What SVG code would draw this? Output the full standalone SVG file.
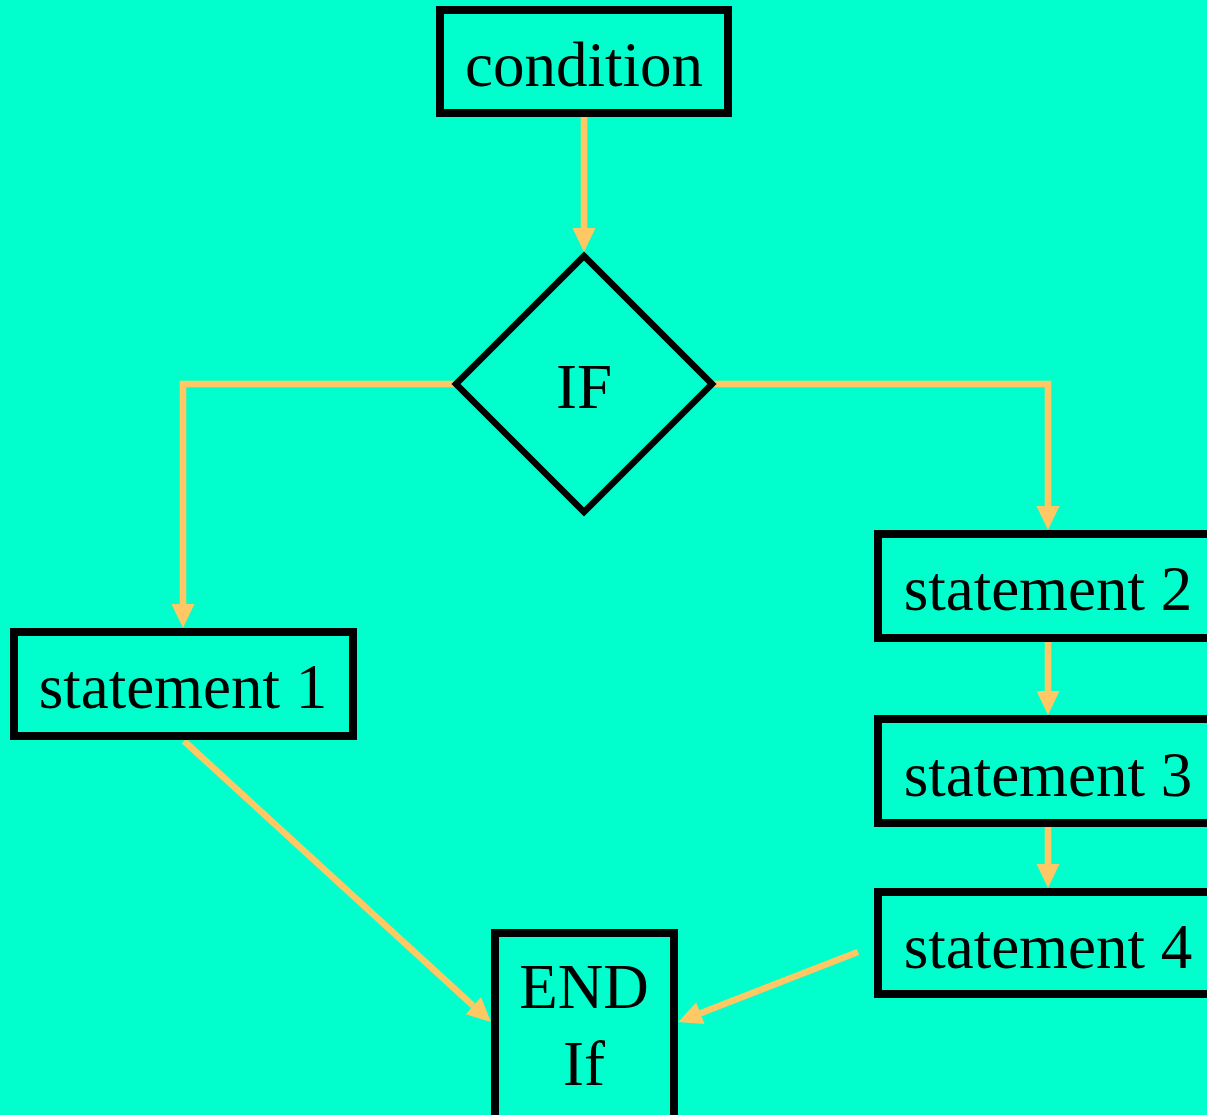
<svg xmlns="http://www.w3.org/2000/svg" width="1207" height="1115" viewBox="0 0 1207 1115">
<style>
.box{fill:#00FFCC;stroke:#000;stroke-width:8}
.dia{fill:#00FFCC;stroke:#000;stroke-width:6.5;stroke-linejoin:miter}
.lbl{font-family:"Liberation Serif","Times New Roman",serif;font-size:63px;fill:#000;text-anchor:middle}
.conn{fill:none;stroke:#FFC864;stroke-width:6.5;stroke-linejoin:miter}
</style>
<defs>
<marker id="arr" markerUnits="userSpaceOnUse" markerWidth="24" markerHeight="24" refX="0" refY="11.5" orient="auto" overflow="visible">
<path d="M0,0 L24,11.5 L0,23 Z" fill="#FFC864"/>
</marker>
</defs>
<rect width="1207" height="1115" fill="#00FFCC"/>
<g id="connectors">
<path class="conn" d="M584,117 V228" marker-end="url(#arr)"/>
<path class="conn" d="M456,384 H183 V604" marker-end="url(#arr)"/>
<path class="conn" d="M712,384 H1048 V506" marker-end="url(#arr)"/>
<path class="conn" d="M1048,642 V691" marker-end="url(#arr)"/>
<path class="conn" d="M1048,827 V864" marker-end="url(#arr)"/>
<path class="conn" d="M184,741 L473.3,1005.8" marker-end="url(#arr)"/>
<path class="conn" d="M858,952 L700.4,1013.3" marker-end="url(#arr)"/>
</g>
<g id="condition">
<rect class="box" x="440" y="10" width="288" height="103"/>
<text class="lbl" x="584" y="86">condition</text>
</g>
<g id="if">
<path class="dia" d="M584,256 L712,384 L584,512 L456,384 Z"/>
<text class="lbl" x="584" y="408">IF</text>
</g>
<g id="statement1">
<rect class="box" x="14" y="632" width="339" height="104"/>
<text class="lbl" x="183" y="708">statement 1</text>
</g>
<g id="statement2">
<rect class="box" x="878" y="534" width="340" height="104"/>
<text class="lbl" x="1048" y="610">statement 2</text>
</g>
<g id="statement3">
<rect class="box" x="878" y="719" width="340" height="104"/>
<text class="lbl" x="1048" y="796">statement 3</text>
</g>
<g id="statement4">
<rect class="box" x="878" y="892" width="340" height="102"/>
<text class="lbl" x="1048" y="968">statement 4</text>
</g>
<g id="endif">
<rect class="box" x="495" y="933" width="179" height="200"/>
<text class="lbl" x="584" y="1008">END</text>
<text class="lbl" x="584" y="1085">If</text>
</g>
</svg>
